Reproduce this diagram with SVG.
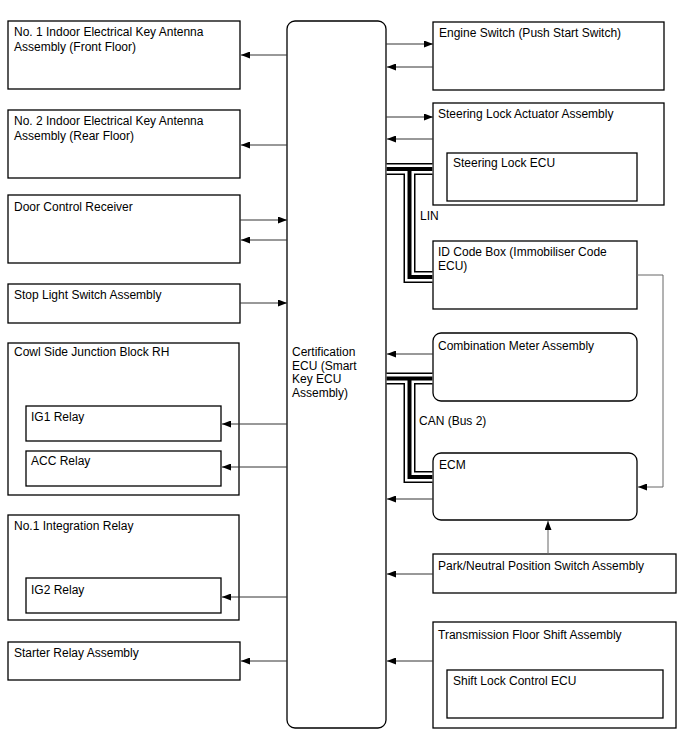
<svg xmlns="http://www.w3.org/2000/svg" width="688" height="755" viewBox="0 0 688 755">
<style>
.box{fill:#fff;stroke:#000;stroke-width:1.3}
.t{font-family:"Liberation Sans",Arial,sans-serif;font-size:12px;fill:#000}
.ln{fill:none;stroke:#333;stroke-width:1}
.c1{fill:none;stroke:#000;stroke-width:12}
.c2{fill:none;stroke:#fff;stroke-width:9}
.c3{fill:none;stroke:#000;stroke-width:4}
.gr{fill:none;stroke:#666;stroke-width:1}
</style>
<defs>
<marker id="ah" markerUnits="userSpaceOnUse" markerWidth="9" markerHeight="7" refX="9" refY="3.5" orient="auto">
<path d="M0,0 L9,3.5 L0,7 z" fill="#000"/>
</marker>
</defs>
<rect width="688" height="755" fill="#fff"/>
<g id="ecu">
<rect class="box" x="287" y="21" width="99" height="707" rx="8"/>
<text class="t" x="292" y="356">Certification</text>
<text class="t" x="292" y="369.5">ECU (Smart</text>
<text class="t" x="292" y="383">Key ECU</text>
<text class="t" x="292" y="396.5">Assembly)</text>
</g>
<g id="no1-antenna">
<rect class="box" x="8" y="21" width="232" height="68"/>
<text class="t" x="14" y="36">No. 1 Indoor Electrical Key Antenna</text>
<text class="t" x="14" y="51">Assembly (Front Floor)</text>
</g>
<g id="no2-antenna">
<rect class="box" x="8" y="110" width="232" height="68"/>
<text class="t" x="14" y="125">No. 2 Indoor Electrical Key Antenna</text>
<text class="t" x="14" y="140">Assembly (Rear Floor)</text>
</g>
<g id="door-control-receiver">
<rect class="box" x="8" y="195" width="232" height="68"/>
<text class="t" x="14" y="211">Door Control Receiver</text>
</g>
<g id="stop-light-switch">
<rect class="box" x="8" y="284" width="232" height="39"/>
<text class="t" x="14" y="299">Stop Light Switch Assembly</text>
</g>
<g id="cowl-side-jb">
<rect class="box" x="8" y="343" width="231" height="152"/>
<text class="t" x="14" y="356">Cowl Side Junction Block RH</text>
</g>
<g id="ig1-relay">
<rect class="box" x="26" y="406" width="195" height="35"/>
<text class="t" x="31" y="421">IG1 Relay</text>
</g>
<g id="acc-relay">
<rect class="box" x="26" y="451" width="195" height="35"/>
<text class="t" x="31" y="465">ACC Relay</text>
</g>
<g id="no1-integration-relay">
<rect class="box" x="8" y="515" width="231" height="105"/>
<text class="t" x="14" y="530">No.1 Integration Relay</text>
</g>
<g id="ig2-relay">
<rect class="box" x="26" y="578" width="195" height="35"/>
<text class="t" x="31" y="594">IG2 Relay</text>
</g>
<g id="starter-relay">
<rect class="box" x="8" y="642" width="232" height="38"/>
<text class="t" x="14" y="657">Starter Relay Assembly</text>
</g>
<g id="engine-switch">
<rect class="box" x="433" y="22" width="231" height="68"/>
<text class="t" x="439" y="37">Engine Switch (Push Start Switch)</text>
</g>
<g id="steering-lock-actuator">
<rect class="box" x="433" y="103" width="231" height="102"/>
<text class="t" x="438" y="118">Steering Lock Actuator Assembly</text>
</g>
<g id="steering-lock-ecu">
<rect class="box" x="447" y="153" width="190" height="48"/>
<text class="t" x="453" y="167">Steering Lock ECU</text>
</g>
<g id="lin-label">
<text class="t" x="420" y="220">LIN</text>
</g>
<g id="id-code-box">
<rect class="box" x="433" y="241" width="204" height="68"/>
<text class="t" x="438" y="256">ID Code Box (Immobiliser Code</text>
<text class="t" x="438" y="270">ECU)</text>
</g>
<g id="combination-meter">
<rect class="box" x="433" y="333" width="204" height="68" rx="8"/>
<text class="t" x="438" y="350">Combination Meter Assembly</text>
</g>
<g id="can-label">
<text class="t" x="419" y="425">CAN (Bus 2)</text>
</g>
<g id="ecm">
<rect class="box" x="433" y="453" width="204" height="67" rx="8"/>
<text class="t" x="439" y="469">ECM</text>
</g>
<g id="park-neutral-switch">
<rect class="box" x="433" y="554" width="243" height="39"/>
<text class="t" x="438" y="570">Park/Neutral Position Switch Assembly</text>
</g>
<g id="transmission-floor-shift">
<rect class="box" x="433" y="622" width="243" height="106"/>
<text class="t" x="438" y="639">Transmission Floor Shift Assembly</text>
</g>
<g id="shift-lock-ecu">
<rect class="box" x="447" y="670" width="216" height="48"/>
<text class="t" x="453" y="685">Shift Lock Control ECU</text>
</g>
<g id="connectors">
<g id="lin-bus">
<path class="c1" d="M386.6,169 H432.4 M409.5,169 V277 H432.4"/>
<path class="c2" d="M386.6,169 H432.4 M409.5,169 V277 H432.4"/>
<path class="c3" d="M386.6,169 H432.4 M409.5,169 V277 H432.4"/>
</g>
<g id="can-bus">
<path class="c1" d="M386.6,378.5 H432.4 M409.5,378.5 V477 H432.4"/>
<path class="c2" d="M386.6,378.5 H432.4 M409.5,378.5 V477 H432.4"/>
<path class="c3" d="M386.6,378.5 H432.4 M409.5,378.5 V477 H432.4"/>
</g>
<path class="ln" marker-end="url(#ah)" d="M287,55 H241"/>
<path class="ln" marker-end="url(#ah)" d="M287,145 H241"/>
<path class="ln" marker-end="url(#ah)" d="M240,220 H287"/>
<path class="ln" marker-end="url(#ah)" d="M287,240 H241"/>
<path class="ln" marker-end="url(#ah)" d="M240,303 H287"/>
<path class="ln" marker-end="url(#ah)" d="M287,424 H222"/>
<path class="ln" marker-end="url(#ah)" d="M287,467 H222"/>
<path class="ln" marker-end="url(#ah)" d="M287,597 H222"/>
<path class="ln" marker-end="url(#ah)" d="M287,661 H241"/>
<path class="ln" marker-end="url(#ah)" d="M386,44 H433"/>
<path class="ln" marker-end="url(#ah)" d="M433,67 H387"/>
<path class="ln" marker-end="url(#ah)" d="M386,117 H433"/>
<path class="ln" marker-end="url(#ah)" d="M433,139 H387"/>
<path class="ln" marker-end="url(#ah)" d="M433,354 H387"/>
<path class="ln" marker-end="url(#ah)" d="M433,499 H387"/>
<path class="ln" marker-end="url(#ah)" d="M433,574 H387"/>
<path class="ln" marker-end="url(#ah)" d="M433,661 H387"/>
<path class="gr" marker-end="url(#ah)" d="M637,275 H663 V487 H638"/>
<path class="gr" marker-end="url(#ah)" d="M548,554 V521"/>
</g>
</svg>
